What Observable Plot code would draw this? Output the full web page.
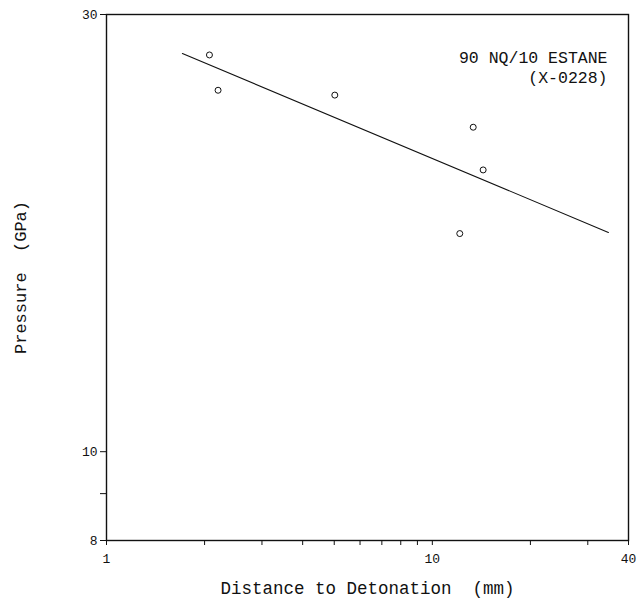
<!DOCTYPE html>
<html>
<head>
<meta charset="utf-8">
<script src="https://cdn.jsdelivr.net/npm/d3@7"></script>
<script src="https://cdn.jsdelivr.net/npm/@observablehq/plot@0.6"></script>
<style>
  html, body { margin: 0; padding: 0; background: #fff; }
  svg { display: block; }
</style>
</head>
<body>
<div id="chart"></div>
<script>
// Measured points
const distance = [2.07, 2.20, 5.02, 13.35, 14.32, 12.14];   // mm
const pressure = [27.1, 24.8, 24.5, 22.6, 20.3, 17.3];      // GPa

// Fitted line endpoints
const fitDistance = [1.71, 34.7];
const fitPressure = [27.2, 17.35];

// Ticks
const xMajorTicks = [1, 10, 40];
const xMinorTicks = [2, 3, 4, 5, 6, 7, 8, 9, 20, 30];
const yMajorTicks = [8, 10, 30];
const yMinorTicks = [9];

const xTitle = "Distance to Detonation  (mm)";
const yTitle = "Pressure  (GPa)";
const annotation = ["90 NQ/10 ESTANE", "(X-0228)"];

const points = distance.map((d, i) => ({d, p: pressure[i]}));
const fit = fitDistance.map((d, i) => ({d, p: fitPressure[i]}));

const font = "'Liberation Mono', 'DejaVu Sans Mono', monospace";

const chart = Plot.plot({
  width: 640,
  height: 609,
  marginLeft: 106,
  marginRight: 12,
  marginTop: 14,
  marginBottom: 69,
  style: {fontFamily: font, fontSize: "13px", color: "#111", background: "#fff"},
  x: {type: "log", domain: [1, 40]},
  y: {type: "log", domain: [8, 30]},
  marks: [
    Plot.frame({stroke: "#111", strokeWidth: 1.4}),
    Plot.axisX({ticks: xMinorTicks, tickSize: 5, tickFormat: () => "", label: null, stroke: "#111"}),
    Plot.axisX({ticks: xMajorTicks, tickSize: 5, tickPadding: 8, tickFormat: d => String(d), label: null, fontSize: 13}),
    Plot.axisY({ticks: yMinorTicks, tickSize: 6, tickFormat: () => "", label: null}),
    Plot.axisY({ticks: yMajorTicks, tickSize: 6, tickPadding: 3, tickFormat: d => String(d), label: null, fontSize: 13}),
    Plot.line(fit, {x: "d", y: "p", stroke: "#111", strokeWidth: 1.1}),
    Plot.dot(points, {x: "d", y: "p", r: 3, stroke: "#111", strokeWidth: 1, fill: "none"}),
    Plot.text([annotation[0]], {frameAnchor: "top-right", dx: -21, dy: 37, fontSize: 16.5, textAnchor: "end", fill: "#111"}),
    Plot.text([annotation[1]], {frameAnchor: "top-right", dx: -21, dy: 57, fontSize: 16.5, textAnchor: "end", fill: "#111"}),
    Plot.text([xTitle], {frameAnchor: "bottom", dy: 53, fontSize: 17.5, fill: "#111"}),
    Plot.text([yTitle], {frameAnchor: "left", dx: -86, rotate: -90, textAnchor: "middle", fontSize: 17, fill: "#111"})
  ]
});
document.getElementById("chart").appendChild(chart);
</script>
</body>
</html>
